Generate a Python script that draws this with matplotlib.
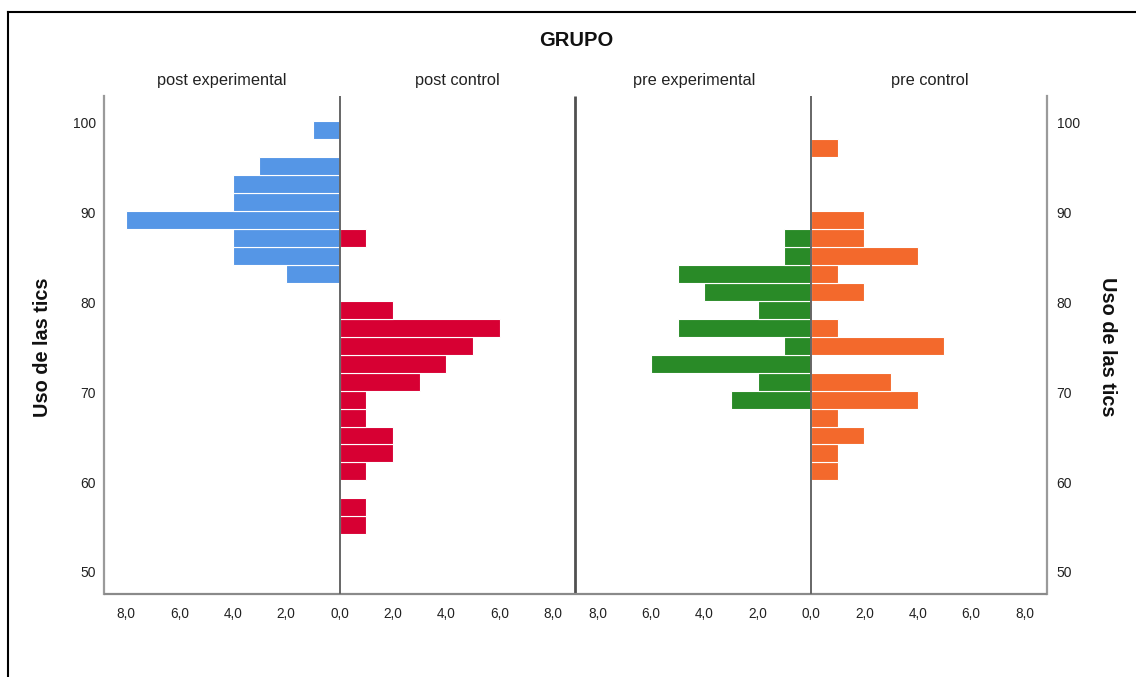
import matplotlib
matplotlib.use("Agg")
import matplotlib.pyplot as plt
from matplotlib.lines import Line2D
import numpy as np

plt.rcParams['font.family'] = ['Liberation Sans', 'DejaVu Sans']

# ---- data ----
bin_centers = [55.2, 57.2, 59.2, 61.2, 63.2, 65.2, 67.2, 69.2, 71.2, 73.2, 75.2, 77.2,
               79.2, 81.2, 83.2, 85.2, 87.2, 89.2, 91.2, 93.2, 95.2, 97.2, 99.2]
bin_width = 2.0
post_experimental = [0, 0, 0, 0, 0, 0, 0, 0, 0, 0, 0, 0, 0, 0, 2, 4, 4, 8, 4, 4, 3, 0, 1]
post_control      = [1, 1, 0, 1, 2, 2, 1, 1, 3, 4, 5, 6, 2, 0, 0, 0, 1, 0, 0, 0, 0, 0, 0]
pre_experimental  = [0, 0, 0, 0, 0, 0, 0, 3, 2, 6, 1, 5, 2, 4, 5, 1, 1, 0, 0, 0, 0, 0, 0]
pre_control       = [0, 0, 0, 1, 1, 2, 1, 4, 3, 0, 5, 1, 0, 2, 1, 4, 2, 2, 0, 0, 0, 1, 0]
panel_labels = ["post experimental", "post control", "pre experimental", "pre control"]
colors = ["#5596E6", "#D70033", "#298A27", "#F3692C"]
y_ticks = [50, 60, 70, 80, 90, 100]
x_ticks = [-8, -6, -4, -2, 0, 2, 4, 6, 8]
title = "GRUPO"
y_label = "Uso de las tics"

W, H = 1136, 677
fig = plt.figure(figsize=(W / 100, H / 100), dpi=100)

def fx(px):
    return px / W

def fy(py):
    return 1 - py / H

ax_bottom = fy(594)
ax_top = fy(96)
ax1 = fig.add_axes([fx(104), ax_bottom, fx(575) - fx(104), ax_top - ax_bottom])
ax2 = fig.add_axes([fx(575), ax_bottom, fx(1047) - fx(575), ax_top - ax_bottom])
ax1.patch.set_visible(False)
ax2.patch.set_visible(False)

pairs = [(ax1, post_experimental, post_control, colors[0], colors[1], 8.82),
         (ax2, pre_experimental, pre_control, colors[2], colors[3], 8.84)]

for ax, left_vals, right_vals, cl, cr, lim in pairs:
    lv = np.array(left_vals, dtype=float)
    rv = np.array(right_vals, dtype=float)
    yc = np.array(bin_centers)
    ax.barh(yc[lv > 0], -lv[lv > 0], height=bin_width, color=cl,
            edgecolor="#ffffff", linewidth=0.8, zorder=2)
    ax.barh(yc[rv > 0], rv[rv > 0], height=bin_width, color=cr,
            edgecolor="#ffffff", linewidth=0.8, zorder=2)
    ax.axvline(0, color="#666666", linewidth=1.4, zorder=3)
    ax.set_xlim(-lim, lim)
    ax.set_ylim(47.55, 103.0)
    ax.set_xticks(x_ticks)
    ax.set_xticklabels([f"{abs(v):.1f}".replace(".", ",") for v in x_ticks], fontsize=9.8)
    ax.tick_params(axis="x", length=0, pad=9.5, colors="#222222")
    ax.spines["top"].set_visible(False)
    ax.spines["bottom"].set_color("#8a8a8a")
    ax.spines["bottom"].set_linewidth(1.6)
    ax.spines["bottom"].set_capstyle("butt")

# y axis on left of ax1 and right of ax2
ax1.set_yticks(y_ticks)
ax1.set_yticklabels([str(v) for v in y_ticks], fontsize=10)
ax1.tick_params(axis="y", length=0, pad=6, colors="#222222")
ax1.spines["left"].set_color("#9a9a9a")
ax1.spines["left"].set_linewidth(1.6)
ax1.spines["right"].set_color("#505050")
ax1.spines["right"].set_linewidth(2.0)
ax1.spines["right"].set_capstyle("butt")

ax2.yaxis.tick_right()
ax2.set_yticks(y_ticks)
ax2.set_yticklabels([str(v) for v in y_ticks], fontsize=10)
ax2.tick_params(axis="y", length=0, pad=7, colors="#222222")
ax2.spines["left"].set_visible(False)
ax2.spines["right"].set_color("#9a9a9a")
ax2.spines["right"].set_linewidth(1.6)

# texts
fig.text(fx(576), fy(40), title, ha="center", va="center", fontsize=14.5,
         fontweight="bold", color="#111111")
for lab, px in zip(panel_labels, [222, 457, 694, 930]):
    fig.text(fx(px), fy(80), lab, ha="center", va="center", fontsize=11.8, color="#222222")
fig.text(fx(42), fy(347), y_label, rotation=90, ha="center", va="center",
         fontsize=14.3, fontweight="bold", color="#111111")
fig.text(fx(1108), fy(347), y_label, rotation=-90, ha="center", va="center",
         fontsize=14.3, fontweight="bold", color="#111111")

# outer border (left and top)
fig.add_artist(Line2D([fx(8), fx(8)], [0, fy(12)], color="black", linewidth=1.5))
fig.add_artist(Line2D([fx(8), 1], [fy(12), fy(12)], color="black", linewidth=1.5))

fig.savefig("out.png", dpi=100)
